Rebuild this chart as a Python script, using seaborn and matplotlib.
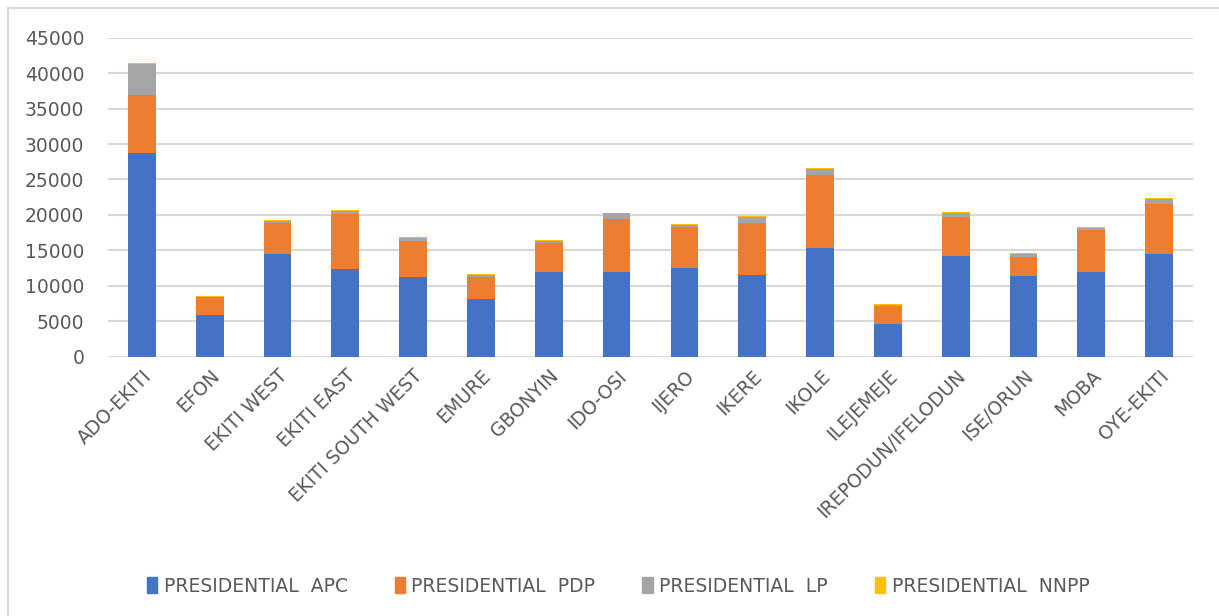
import matplotlib
matplotlib.use("Agg")
import matplotlib.pyplot as plt
import matplotlib.patches as mpatches
from matplotlib.lines import Line2D
import pandas as pd
import seaborn as sns

lgas = ["ADO-EKITI", "EFON", "EKITI WEST", "EKITI EAST", "EKITI SOUTH WEST",
        "EMURE", "GBONYIN", "IDO-OSI", "IJERO", "IKERE", "IKOLE", "ILEJEMEJE",
        "IREPODUN/IFELODUN", "ISE/ORUN", "MOBA", "OYE-EKITI"]
apc = [28730, 5880, 14480, 12370, 11250, 8160, 11980, 11980, 12550, 11560,
       15380, 4620, 14250, 11420, 11980, 14530]
pdp = [8130, 2540, 4370, 7800, 5080, 3020, 4100, 7410, 5800, 7360,
       10280, 2590, 5470, 2690, 5940, 7080]
lp = [4470, 60, 280, 380, 420, 380, 280, 850, 280, 850,
      760, 90, 610, 420, 280, 570]
nnpp = [100, 100, 140, 140, 140, 140, 140, 95, 140, 140,
        140, 140, 140, 140, 140, 140]

series = ["PRESIDENTIAL  APC", "PRESIDENTIAL  PDP", "PRESIDENTIAL  LP", "PRESIDENTIAL  NNPP"]
colors = ["#4472C4", "#ED7D31", "#A5A5A5", "#FFC000"]

df = pd.DataFrame({"lga": lgas, "apc": apc, "pdp": pdp, "lp": lp, "nnpp": nnpp})
df["c1"] = df["apc"]
df["c2"] = df["c1"] + df["pdp"]
df["c3"] = df["c2"] + df["lp"]
df["c4"] = df["c3"] + df["nnpp"]

sns.set_style("white")
plt.rcParams["font.family"] = ["DejaVu Sans"]

fig = plt.figure(figsize=(12.19, 6.16), dpi=100)
ax = fig.add_axes([108 / 1219, 1 - 356.7 / 616, 1085 / 1219, 319 / 616])

# stacked bars: draw cumulative totals from the top down
for col, c in zip(["c4", "c3", "c2", "c1"], colors[::-1]):
    sns.barplot(data=df, x="lga", y=col, color=c, width=0.41, saturation=1,
                ax=ax, zorder=3, linewidth=0)

ax.set_ylim(0, 45000)
ax.set_yticks(range(0, 45001, 5000))
ax.set_xlim(-0.5, len(lgas) - 0.5)
ax.yaxis.grid(True, color="#D9D9D9", linewidth=1.5, zorder=0)
ax.set_axisbelow(True)
for s in ax.spines.values():
    s.set_visible(False)
ax.set_xlabel("")
ax.set_ylabel("")
ax.tick_params(axis="both", length=0, labelsize=13.5, labelcolor="#595959")
ax.tick_params(axis="y", pad=17)
ax.tick_params(axis="x", pad=7)
plt.setp(ax.get_xticklabels(), rotation=45, ha="right", rotation_mode="anchor")

handles = [mpatches.Patch(color=c, label=l) for c, l in zip(colors, series)]
fig.legend(handles=handles, loc="center", bbox_to_anchor=(618 / 1219, 1 - 586 / 616),
           ncol=4, frameon=False, fontsize=13.5, labelcolor="#595959",
           handlelength=0.55, handleheight=1.0, handletextpad=0.35, columnspacing=2.5)

# chart area border (left and top edges visible)
fig.add_artist(Line2D([7.5 / 1219, 7.5 / 1219], [0, 1 - 8 / 616],
                      transform=fig.transFigure, color="#D9D9D9", linewidth=1.5))
fig.add_artist(Line2D([7.5 / 1219, 1], [1 - 8 / 616, 1 - 8 / 616],
                      transform=fig.transFigure, color="#D9D9D9", linewidth=1.5))

fig.savefig("out.png", dpi=100)
